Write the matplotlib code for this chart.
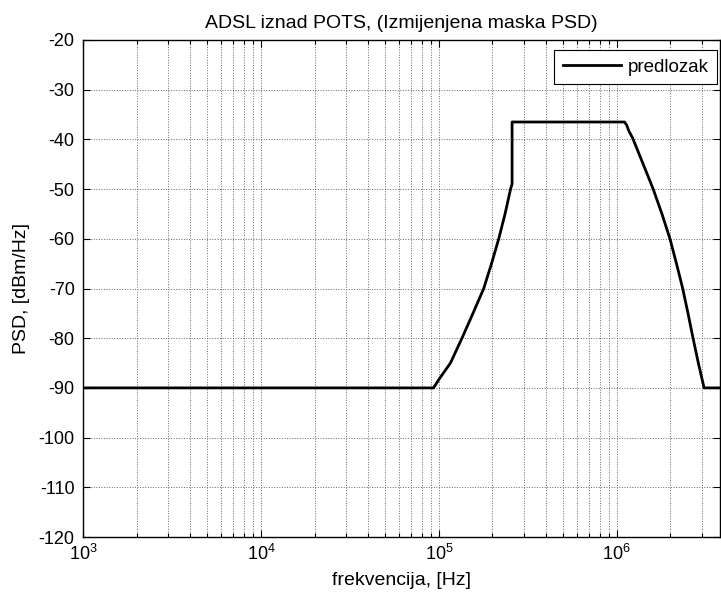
import matplotlib
matplotlib.use("Agg")
import matplotlib.pyplot as plt
from matplotlib.ticker import LogLocator, MultipleLocator

# PSD mask points (Hz, dBm/Hz)
freq = [1e3, 93.3e3, 100e3, 107e3, 116.1e3, 134.8e3, 155.4e3, 178.6e3, 197.6e3, 216.9e3, 235.4e3,
        252.7e3, 257.8e3,
        257.8e3, 1104e3, 1135e3, 1168e3, 1226e3, 1407e3, 1601e3, 1793e3, 1989e3, 2164e3,
        2345e3, 2512e3, 2681e3, 2871e3, 3093e3, 3.8e6]
psd = [-90, -90, -88.3, -86.8, -85, -80, -75, -70, -65, -60, -55,
       -50, -49,
       -36.5, -36.5, -37.1, -38.3, -39.7, -45, -50, -55, -60, -65,
       -70, -75, -80, -85, -90, -90]

title = "ADSL iznad POTS, (Izmijenjena maska PSD)"
x_label = "frekvencija, [Hz]"
y_label = "PSD, [dBm/Hz]"
legend_label = "predlozak"

plt.rcParams['font.family'] = ['Liberation Sans', 'DejaVu Sans']
plt.rcParams['mathtext.fontset'] = 'custom'
plt.rcParams['mathtext.rm'] = 'Liberation Sans'
plt.rcParams['axes.unicode_minus'] = False

fig = plt.figure(figsize=(7.21, 5.95), dpi=100)
ax = fig.add_axes([83 / 721, 1 - 537 / 595, (720 - 83) / 721, (537 - 40) / 595])

ax.plot(freq, psd, color='black', linewidth=2.0, label=legend_label)

ax.set_xscale('log')
ax.set_xlim(1e3, 3.8e6)
ax.set_ylim(-120, -20)
ax.yaxis.set_major_locator(MultipleLocator(10))
ax.xaxis.set_major_locator(LogLocator(base=10))
ax.xaxis.set_minor_locator(LogLocator(base=10, subs=range(2, 10)))

# matlab-like grid: major + minor verticals, major horizontals
ax.grid(True, which='major', color='#666666', linestyle=':', linewidth=0.7)
ax.grid(True, which='minor', axis='x', color='#666666', linestyle=':', linewidth=0.7)

ax.tick_params(which='both', direction='in', top=True, right=True, labelsize=13)
ax.tick_params(which='major', length=5, width=0.8)
ax.tick_params(which='minor', length=3, width=0.8)
ax.tick_params(axis='x', which='major', pad=5)
ax.tick_params(axis='y', which='major', pad=6)
for s in ax.spines.values():
    s.set_linewidth(1.0)

ax.set_title(title, fontsize=14, pad=9)
ax.set_xlabel(x_label, fontsize=14, labelpad=6)
ax.set_ylabel(y_label, fontsize=14, labelpad=6)

leg = ax.legend(loc='upper right', bbox_to_anchor=(717 / 721, 1 - 50 / 595),
                bbox_transform=fig.transFigure, borderaxespad=0,
                fontsize=13.5, fancybox=False, framealpha=1, edgecolor='black',
                handlelength=3.1, handletextpad=0.35, borderpad=0.45)
leg.get_frame().set_linewidth(0.8)

fig.savefig("out.png", dpi=100)
